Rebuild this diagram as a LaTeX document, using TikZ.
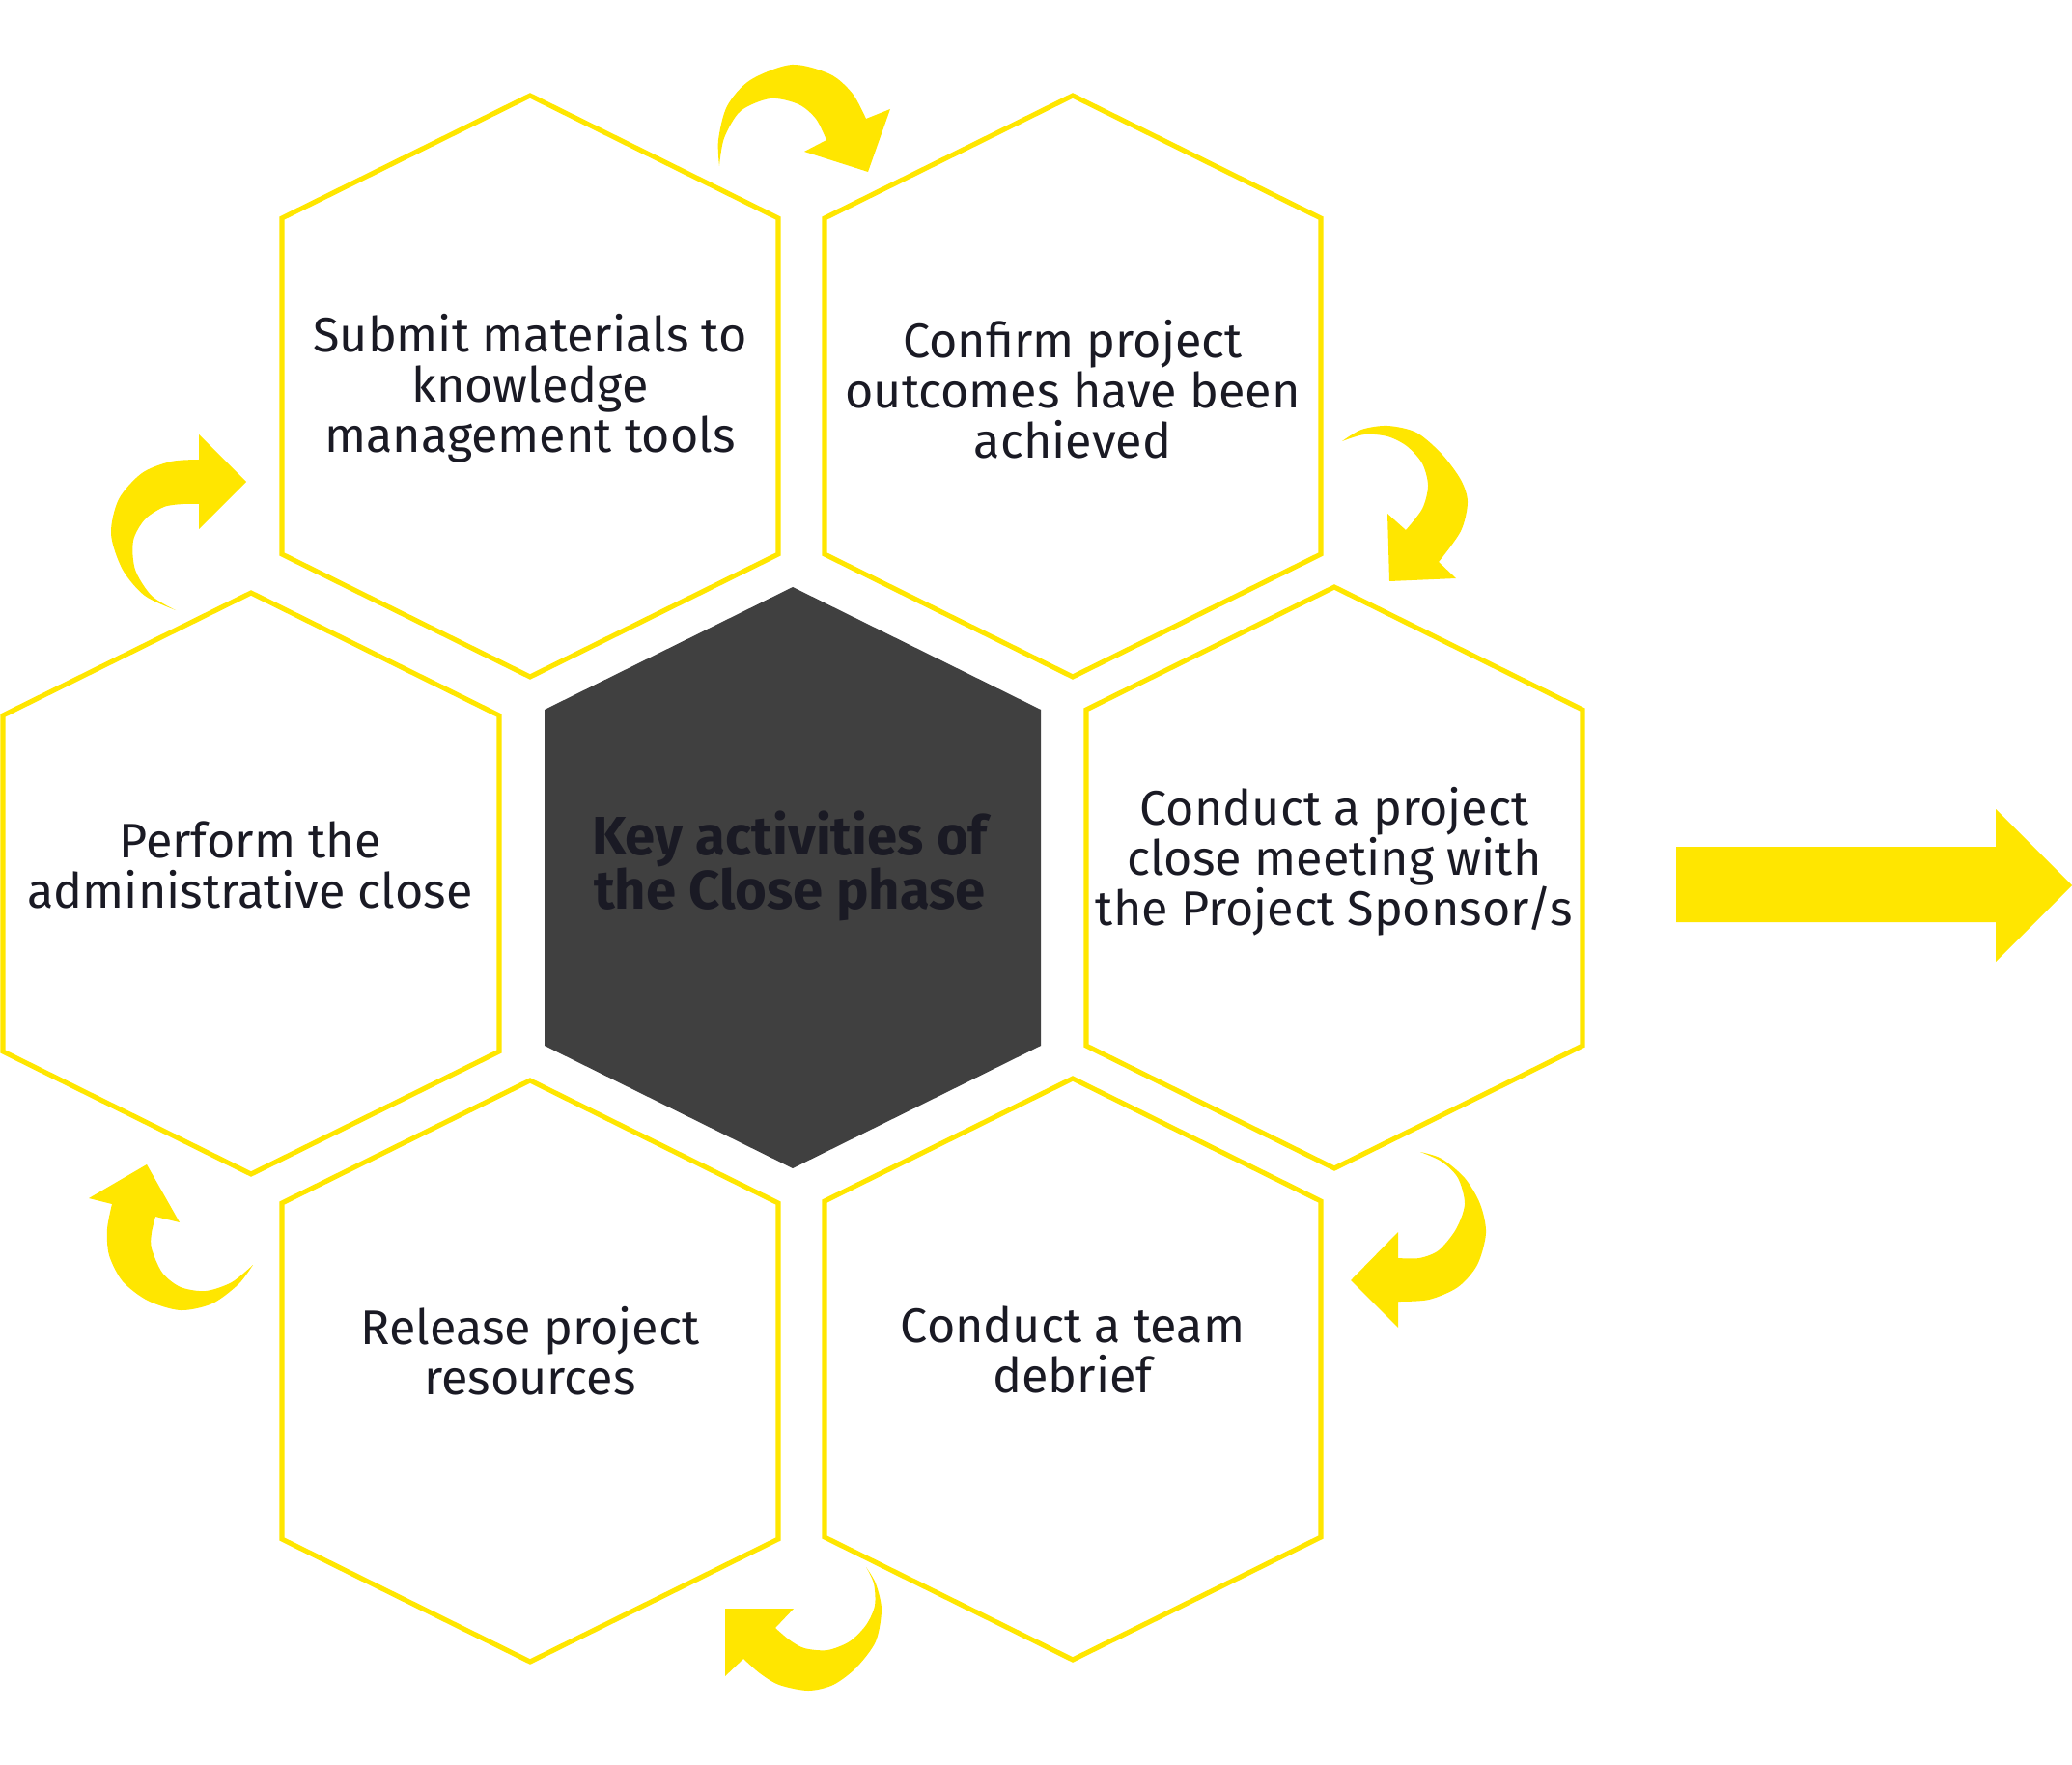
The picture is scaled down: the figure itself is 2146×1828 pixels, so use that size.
\documentclass[tikz,border=0pt]{standalone}
\usepackage{fontspec}
\setmainfont{Fira Sans}
\definecolor{eyyellow}{HTML}{FFE600}
\definecolor{eydark}{HTML}{404040}
\definecolor{eytext}{HTML}{1A1A24}
\tikzset{
  pics/hexa/.style={code={\path[#1] (0,-301) -- (257,-174) -- (257,174) -- (0,301) -- (-257,174) -- (-257,-174) -- cycle;}}
}
\begin{document}
\begin{tikzpicture}[x=0.01cm,y=-0.01cm,
  hexline/.style={draw=eyyellow,line width=1.45pt,line join=miter},
  hexfill/.style={fill=eydark},
  lbl/.style={align=center,text=eytext,font=\fontsize{14.3}{14.8}\selectfont,inner sep=0pt},
  ttl/.style={align=center,text=eytext,font=\fontsize{16}{15.8}\selectfont\bfseries,inner sep=0pt},
  cyarrow/.style={fill=eyyellow}
]
\useasboundingbox (0,0) rectangle (2146,1828);

% hexagons
\pic at (549,400) {hexa={hexline}};
\pic at (1111,400) {hexa={hexline}};
\pic at (260,915) {hexa={hexline}};
\pic at (821,909) {hexa={hexfill}};
\pic at (1382,909) {hexa={hexline}};
\pic at (549,1420) {hexa={hexline}};
\pic at (1111,1418) {hexa={hexline}};

% labels
\node[lbl] (tl) at (549,402) {Submit materials to\\knowledge\\management tools};
\node[lbl] (tr) at (1111,403) {Confirm project\\outcomes have been\\achieved};
\node[lbl] (r) at (1382,892) {Conduct a project\\close meeting with\\the Project Sponsor/s};
\node[lbl] (l) at (259,896) {Perform the\\administrative close};
\node[ttl] (c) at (818,897) {Key activities of\\the Close phase};
\node[lbl] (bl) at (549,1399) {Release project\\resources};
\node[lbl] (br) at (1111,1398) {Conduct a team\\debrief};

% curved arrows
\fill[cyarrow] plot[smooth] coordinates {(745,172) (744,145) (753,110) (777,83) (820,67) (860,77) (883,97) (897,123)}
  -- (922,113) -- (899,178) -- (833,157) -- (856,145)
  -- plot[smooth] coordinates {(856,145) (845,123) (827,108) (798,102) (767,115) (750,143) (745,172)} -- cycle;

\fill[cyarrow] plot[smooth] coordinates {(1390,457) (1410,445) (1437,441) (1467,448) (1493,470) (1513,497) (1520,520) (1513,550) (1490,582)}
  -- (1508,599) -- (1439,602) -- (1437,532) -- (1456,549)
  -- plot[smooth] coordinates {(1456,549) (1473,527) (1479,503) (1473,480) (1457,462) (1437,452) (1413,450) (1390,457)} -- cycle;

\fill[cyarrow] plot[smooth] coordinates {(1471,1193) (1493,1200) (1517,1220) (1533,1247) (1539,1277) (1530,1310) (1510,1333) (1480,1346) (1448,1348)}
  -- (1448,1375) -- (1399,1326) -- (1448,1276) -- (1448,1303)
  -- plot[smooth] coordinates {(1448,1303) (1470,1303) (1490,1295) (1508,1273) (1517,1247) (1510,1220) (1493,1203) (1471,1193)} -- cycle;

\fill[cyarrow] plot[smooth] coordinates {(897,1623) (907,1640) (913,1667) (907,1700) (887,1727) (863,1745) (837,1751) (807,1745) (787,1733) (770,1718)}
  -- (751,1736) -- (751,1666) -- (822,1666) -- (803,1686)
  -- plot[smooth] coordinates {(803,1686) (817,1698) (833,1707) (857,1709) (880,1700) (897,1683) (906,1663) (905,1640) (897,1623)} -- cycle;

\fill[cyarrow] plot[smooth] coordinates {(262,1310) (247,1330) (220,1350) (187,1357) (153,1347) (127,1327) (113,1300) (111,1273) (116,1247)}
  -- (92,1241) -- (152,1206) -- (186,1266) -- (161,1260)
  -- plot[smooth] coordinates {(161,1260) (157,1277) (157,1293) (168,1318) (187,1333) (213,1337) (240,1328) (262,1310)} -- cycle;

\fill[cyarrow] plot[smooth] coordinates {(182,632) (150,617) (127,590) (115,553) (123,517) (147,490) (177,478) (206,476)}
  -- (206,450) -- (255,499) -- (206,548) -- (206,522)
  -- plot[smooth] coordinates {(206,522) (190,522) (170,525) (150,538) (138,560) (140,590) (157,617) (182,632)} -- cycle;

% big right arrow
\fill[cyarrow] (1736,877) -- (2067,877) -- (2067,838) -- (2146,917) -- (2067,996) -- (2067,955) -- (1736,955) -- cycle;
\end{tikzpicture}
\end{document}
